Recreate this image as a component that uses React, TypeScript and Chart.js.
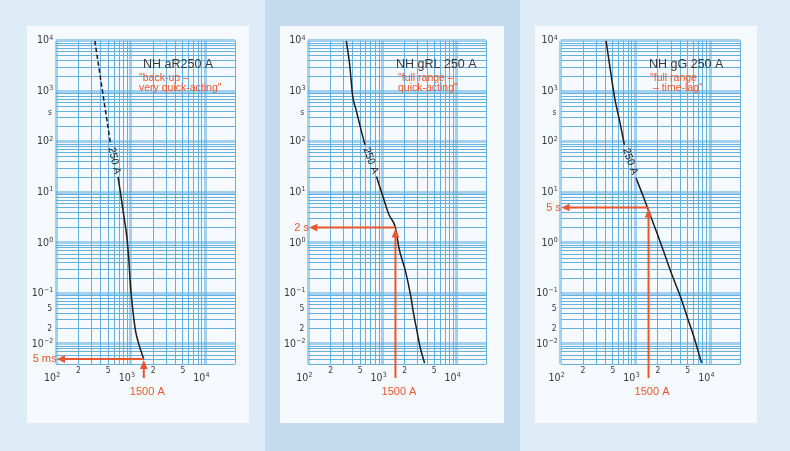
import React, { useEffect, useRef } from "react";
import { Chart, registerables } from "chart.js";

Chart.register(...registerables);

// ---------------- data ----------------
const currentMin = 100;
const currentMax = 25000;
const timeMin = 0.004;
const timeMax = 10000;

const panelTitles = ["NH aR250 A", "NH gRL 250 A", "NH gG 250 A"];
const panelSubtitles = [
  ['"back-up –', 'very quick-acting"'],
  ['"full range –', 'quick-acting"'],
  ['"full range', ' – time-lag"'],
];

// 250 A characteristic, part above the curve label (A, s)
const aRUpperCurrent = [331, 423, 541];
const aRUpperTime = [10000, 925, 87];
// part below the curve label
const aRLowerCurrent = [678, 807, 893, 948, 1000, 1074, 1166, 1291, 1500];
const aRLowerTime = [20.2, 3.59, 1.24, 0.43, 0.13, 0.044, 0.0177, 0.0097, 0.005];

const gRLUpperCurrent = [325, 360, 398, 442, 515, 582];
const gRLUpperTime = [10000, 3575, 782, 427, 172, 87];
const gRLLowerCurrent = [832, 1000, 1228, 1500, 1671, 2051, 2393, 2651, 2931, 3250, 3704];
const gRLLowerTime = [20.5, 8.9, 3.59, 2, 0.79, 0.272, 0.094, 0.038, 0.0178, 0.0083, 0.0042];

const gGUpperCurrent = [406, 450, 525, 612, 713];
const gGUpperTime = [10000, 3575, 782, 271, 87];
const gGLowerCurrent = [1021, 1251, 1983, 2564, 3140, 4064, 4977, 6120, 7656];
const gGLowerTime = [19.1, 8.93, 1.45, 0.5, 0.217, 0.081, 0.0326, 0.0131, 0.0042];

const upperCurrents = [aRUpperCurrent, gRLUpperCurrent, gGUpperCurrent];
const upperTimes = [aRUpperTime, gRLUpperTime, gGUpperTime];
const lowerCurrents = [aRLowerCurrent, gRLLowerCurrent, gGLowerCurrent];
const lowerTimes = [aRLowerTime, gRLLowerTime, gGLowerTime];

const curveLabel = "250 A";
const tripCurrent = [1500, 1500, 1500];
const tripTime = [0.005, 2, 5];
const tripTimeLabels = ["5 ms", "2 s", "5 s"];
const tripCurrentLabel = "1500 A";

// grid / tick values
const gridMantissas = [1, 2, 3, 4, 5, 6, 7, 8, 9];
const xGridDecades = [100, 1000];
const xGridExtra = [10000, 25000];
const yGridDecades = [0.001, 0.01, 0.1, 1, 10, 100, 1000];
const yGridExtra = [10000];

const xTickValues = [100, 200, 500, 1000, 2000, 5000, 10000];
const xTickLabels = ["10^2", "2", "5", "10^3", "2", "5", "10^4"];
const yTickValues = [10000, 1000, 370, 100, 10, 1, 0.1, 0.05, 0.02, 0.01];
const yTickLabels = ["10^4", "10^3", "s", "10^2", "10^1", "10^0", "10^-1", "5", "2", "10^-2"];

// ---------------- layout / style ----------------
const PAGE_W = 790;
const PAGE_H = 451;
const panelRects = [
  { left: 27, top: 26, w: 222, h: 397 },
  { left: 280, top: 26, w: 224, h: 397 },
  { left: 535, top: 26, w: 222, h: 397 },
];
const plotLeft = [56, 308.3, 560.5];
const plotRight = [235, 486, 740];
const plotTop = 40.7;
const plotBottom = 364;
const titleX = [143, 396, 649];
const subX = [139, 398, 650];

const ORANGE = "#e8572f";
const INK = "#1c1c1c";
const TXT = "#3a3a3a";
const FONT_TICK = "'Liberation Sans Narrow', 'DejaVu Sans Condensed', 'Liberation Sans', Arial, sans-serif";
const FONT_TEXT = "'Liberation Sans', Arial, sans-serif";

const buildGrid = (decades: number[], extra: number[]) => {
  const out: number[] = [];
  decades.forEach((d) => gridMantissas.forEach((m) => out.push(m * d)));
  return out.concat(extra);
};
const xGridValues = buildGrid(xGridDecades, xGridExtra);
const yGridValues = buildGrid(yGridDecades, yGridExtra).filter((v) => v >= timeMin - 1e-12);

const isDecade = (v: number) => {
  const l = Math.log10(v);
  return Math.abs(l - Math.round(l)) < 1e-9;
};

function drawLabel(ctx: CanvasRenderingContext2D, label: string, x: number, y: number, align: "right" | "xaxis" | "center") {
  ctx.fillStyle = TXT;
  ctx.textBaseline = "middle";
  ctx.textAlign = "left";
  if (label.startsWith("10^")) {
    const base = "10";
    const exp = label.slice(3).replace("-", "−");
    ctx.font = `10.5px ${FONT_TICK}`;
    const wb = ctx.measureText(base).width;
    ctx.font = `7px ${FONT_TICK}`;
    const we = ctx.measureText(exp).width;
    let left = x - wb - we;
    if (align === "xaxis") left = x - wb;
    ctx.font = `10.5px ${FONT_TICK}`;
    ctx.fillText(base, left, y);
    ctx.font = `7px ${FONT_TICK}`;
    ctx.fillText(exp, left + wb + 0.3, y - 3);
  } else {
    ctx.font = `8.5px ${FONT_TICK}`;
    const w = ctx.measureText(label).width;
    const left = align === "right" ? x - w : x - w / 2;
    ctx.fillText(label, left, y);
  }
}

const overlayPlugin = (i: number) => ({
  id: "overlay" + i,
  afterDatasetsDraw(chart: any) {
    const ctx: CanvasRenderingContext2D = chart.ctx;
    const xs = chart.scales.x;
    const ys = chart.scales.y;
    const area = chart.chartArea;
    ctx.save();

    // curve label in the gap between the two curve parts
    const up = chart.getDatasetMeta(0).data;
    const lo = chart.getDatasetMeta(1).data;
    const a = up[up.length - 1];
    const b = lo[0];
    const ang = Math.atan2(b.y - a.y, b.x - a.x);
    ctx.translate((a.x + b.x) / 2, (a.y + b.y) / 2);
    ctx.rotate(ang);
    ctx.font = `10.5px ${FONT_TEXT}`;
    ctx.fillStyle = INK;
    ctx.textAlign = "center";
    ctx.textBaseline = "middle";
    ctx.fillText(curveLabel, 0, 0);
    ctx.setTransform(chart.currentDevicePixelRatio, 0, 0, chart.currentDevicePixelRatio, 0, 0);

    // titles
    ctx.textAlign = "left";
    ctx.textBaseline = "middle";
    ctx.fillStyle = TXT;
    ctx.font = `12.5px ${FONT_TEXT}`;
    ctx.fillText(panelTitles[i], titleX[i], 64.5);
    ctx.fillStyle = ORANGE;
    ctx.font = `10.5px ${FONT_TEXT}`;
    ctx.fillText(panelSubtitles[i][0], subX[i], 78);
    ctx.fillText(panelSubtitles[i][1], subX[i], 88.5);

    // trip arrows
    const px = xs.getPixelForValue(tripCurrent[i]);
    const py = ys.getPixelForValue(tripTime[i]);
    ctx.strokeStyle = ORANGE;
    ctx.fillStyle = ORANGE;
    ctx.lineWidth = 2;
    ctx.beginPath();
    ctx.moveTo(px, py);
    ctx.lineTo(area.left + 6, py);
    ctx.stroke();
    ctx.beginPath();
    ctx.moveTo(area.left + 1, py);
    ctx.lineTo(area.left + 9, py - 3.8);
    ctx.lineTo(area.left + 9, py + 3.8);
    ctx.closePath();
    ctx.fill();
    ctx.beginPath();
    ctx.moveTo(px, area.bottom + 14);
    ctx.lineTo(px, py + 6);
    ctx.stroke();
    ctx.beginPath();
    ctx.moveTo(px, py + 1);
    ctx.lineTo(px - 3.8, py + 10);
    ctx.lineTo(px + 3.8, py + 10);
    ctx.closePath();
    ctx.fill();

    ctx.font = `11px ${FONT_TEXT}`;
    ctx.textBaseline = "middle";
    ctx.textAlign = "right";
    ctx.fillText(tripTimeLabels[i], area.left + 0.5, py);
    ctx.textAlign = "center";
    ctx.fillText(tripCurrentLabel, px + 3.5, area.bottom + 28);

    // axis labels
    yTickValues.forEach((v, k) => {
      const y = ys.getPixelForValue(v);
      const lab = yTickLabels[k];
      drawLabel(ctx, lab, area.left - (lab.startsWith("10^") ? 3 : 4), y, "right");
    });
    xTickValues.forEach((v, k) => {
      const x = xs.getPixelForValue(v);
      const lab = xTickLabels[k];
      if (lab.startsWith("10^")) drawLabel(ctx, lab, x, area.bottom + 14, "xaxis");
      else drawLabel(ctx, lab, x, area.bottom + 6.5, "center");
    });

    ctx.restore();
  },
});

function Panel({ index }: { index: number }) {
  const ref = useRef<HTMLCanvasElement | null>(null);
  useEffect(() => {
    if (!ref.current) return;
    const gridColor = (c: any) => (c.tick && isDecade(c.tick.value) ? "rgba(95,175,225,0.55)" : "#64b1de");
    const gridWidth = (c: any) => (c.tick && isDecade(c.tick.value) ? 3 : 1);
    const chart = new Chart(ref.current, {
      type: "line",
      data: {
        datasets: [
          {
            data: upperCurrents[index].map((x, k) => ({ x, y: upperTimes[index][k] })),
            borderColor: INK,
            borderWidth: 1.5,
            borderDash: index === 0 ? [4.5, 2.5] : [],
            pointRadius: 0,
            cubicInterpolationMode: "monotone",
            fill: false,
          },
          {
            data: lowerCurrents[index].map((x, k) => ({ x, y: lowerTimes[index][k] })),
            borderColor: INK,
            borderWidth: 1.5,
            pointRadius: 0,
            cubicInterpolationMode: "monotone",
            fill: false,
          },
        ],
      },
      options: {
        responsive: false,
        animation: false,
        events: [],
        layout: {
          padding: {
            left: plotLeft[index],
            right: PAGE_W - plotRight[index],
            top: plotTop,
            bottom: PAGE_H - plotBottom,
          },
        },
        plugins: { legend: { display: false }, tooltip: { enabled: false }, title: { display: false } },
        scales: {
          x: {
            type: "logarithmic",
            min: currentMin,
            max: currentMax,
            ticks: { display: false },
            border: { display: false },
            grid: { drawTicks: false, color: gridColor, lineWidth: gridWidth },
            afterBuildTicks: (s: any) => {
              s.ticks = xGridValues.map((v) => ({ value: v }));
            },
          },
          y: {
            type: "logarithmic",
            min: timeMin,
            max: timeMax,
            ticks: { display: false },
            border: { display: false },
            grid: { drawTicks: false, color: gridColor, lineWidth: gridWidth },
            afterBuildTicks: (s: any) => {
              s.ticks = yGridValues.map((v) => ({ value: v }));
            },
          },
        },
      } as any,
      plugins: [overlayPlugin(index)],
    });
    return () => chart.destroy();
  }, [index]);
  return (
    <canvas
      ref={ref}
      width={PAGE_W}
      height={PAGE_H}
      style={{ position: "absolute", left: 0, top: 0, width: PAGE_W, height: PAGE_H }}
    />
  );
}

export default function App() {
  return (
    <div
      style={{
        position: "absolute",
        left: 0,
        top: 0,
        width: PAGE_W,
        height: PAGE_H,
        background: "#deecf7",
        overflow: "hidden",
      }}
    >
      <div style={{ position: "absolute", left: 265, top: 0, width: 255, height: PAGE_H, background: "#c4daee" }} />
      {panelRects.map((r, i) => (
        <div
          key={i}
          style={{ position: "absolute", left: r.left, top: r.top, width: r.w, height: r.h, background: "#f6f9fd" }}
        />
      ))}
      {[0, 1, 2].map((i) => (
        <Panel key={i} index={i} />
      ))}
    </div>
  );
}
